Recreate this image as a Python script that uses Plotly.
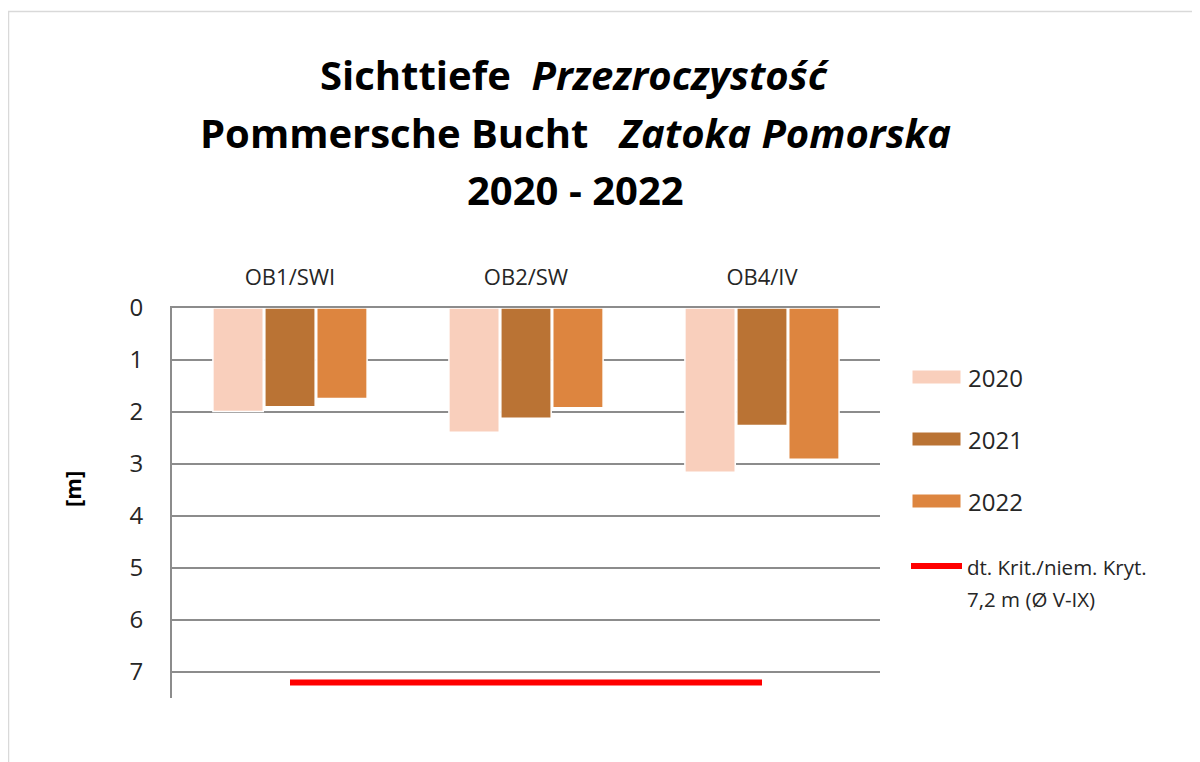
import plotly.graph_objects as go

categories = ["OB1/SWI", "OB2/SW", "OB4/IV"]
years = ["2020", "2021", "2022"]
values_2020 = [1.99, 2.39, 3.16]
values_2021 = [1.90, 2.12, 2.26]
values_2022 = [1.74, 1.92, 2.91]
criterion_value = 7.2
criterion_label_1 = "dt. Krit./niem. Kryt."
criterion_label_2 = "7,2 m (Ø V-IX)"
y_ticks = [0, 1, 2, 3, 4, 5, 6, 7]

colors = ["#F9CFBC", "#BA7334", "#DD853F"]
series = [values_2020, values_2021, values_2022]

FONT = "Open Sans"
W, H = 1200, 762
OFF = 8  # page offset of the figure (body margin)
# plot area in reference page coordinates: x 172..880, y 308..698
L = 172 - OFF
T = 308 - OFF
R = W - (880 - OFF)
B = H - (698 - OFF)
PW, PH = W - L - R, H - T - B


def px(xp):
    return (xp - OFF - L) / PW


def py(yp):
    return (H - B - (yp - OFF)) / PH


fig = go.Figure()
for name, vals, col in zip(years, series, colors):
    fig.add_trace(go.Bar(
        x=categories, y=vals, name=name,
        marker=dict(color=col, line=dict(color="white", width=1.5)),
        showlegend=False,
    ))

fig.add_trace(go.Scatter(
    x=categories, y=[criterion_value] * len(categories), mode="lines",
    line=dict(color="#FF0000", width=6), showlegend=False,
))

shapes = []
annotations = []

# outer chart border
shapes.append(dict(type="rect", xref="paper", yref="paper",
                   x0=px(8.5), x1=px(1230), y0=py(790), y1=py(11.5),
                   line=dict(color="#D9D9D9", width=1.5), fillcolor="rgba(0,0,0,0)",
                   layer="below"))

# custom legend
leg_y = [377, 439, 501]
for name, col, yy in zip(years, colors, leg_y):
    shapes.append(dict(type="rect", xref="paper", yref="paper",
                       x0=px(912), x1=px(961), y0=py(yy + 7), y1=py(yy - 7),
                       fillcolor=col, line=dict(color="white", width=1)))
    annotations.append(dict(text=name, xref="paper", yref="paper",
                            x=px(966), y=py(yy), xanchor="left", yanchor="middle",
                            showarrow=False, font=dict(family=FONT, size=24, color="#262626")))
shapes.append(dict(type="line", xref="paper", yref="paper",
                   x0=px(911), x1=px(962), y0=py(566), y1=py(566),
                   line=dict(color="#FF0000", width=6)))
annotations.append(dict(text=criterion_label_1, xref="paper", yref="paper",
                        x=px(965), y=py(567), xanchor="left", yanchor="middle",
                        showarrow=False, font=dict(family=FONT, size=20.5, color="#262626")))
annotations.append(dict(text=criterion_label_2, xref="paper", yref="paper",
                        x=px(965), y=py(599), xanchor="left", yanchor="middle",
                        showarrow=False, font=dict(family=FONT, size=20.5, color="#262626")))

# title lines
title_lines = ["<b>Sichttiefe  <i>Przezroczystość</i></b>",
               "<b>Pommersche Bucht   <i>Zatoka Pomorska</i></b>",
               "<b>2020 - 2022</b>"]
for t, yy in zip(title_lines, [75, 132, 189]):
    annotations.append(dict(text=t, xref="paper", yref="paper",
                            x=px(575), y=py(yy), xanchor="center", yanchor="middle",
                            showarrow=False, font=dict(family=FONT, size=40, color="black")))

# y-axis title
annotations.append(dict(text="<b>[m]</b>", xref="paper", yref="paper",
                        x=px(72), y=py(489), xanchor="center", yanchor="middle",
                        textangle=-90, showarrow=False,
                        font=dict(family=FONT, size=22, color="black")))

fig.update_layout(
    width=W, height=H,
    margin=dict(l=L, r=R, t=T, b=B, autoexpand=False),
    paper_bgcolor="white", plot_bgcolor="white",
    barmode="group", bargap=0.34, bargroupgap=0.03,
    shapes=shapes, annotations=annotations,
    font=dict(family=FONT, color="#262626"),
    xaxis=dict(side="top", showline=True, linecolor="#8C8C8C", linewidth=2,
               showgrid=False, ticks="", tickfont=dict(size=22, color="#262626"),
               ticklabelstandoff=12, fixedrange=True),
    yaxis=dict(range=[7.5, 0], tickvals=y_ticks, showline=True, linecolor="#8C8C8C",
               linewidth=2, showgrid=True, gridcolor="#8C8C8C", gridwidth=2,
               zeroline=False, ticks="", tickfont=dict(size=24, color="#262626"),
               ticklabelstandoff=22, fixedrange=True),
)

fig.write_html("out.html")
